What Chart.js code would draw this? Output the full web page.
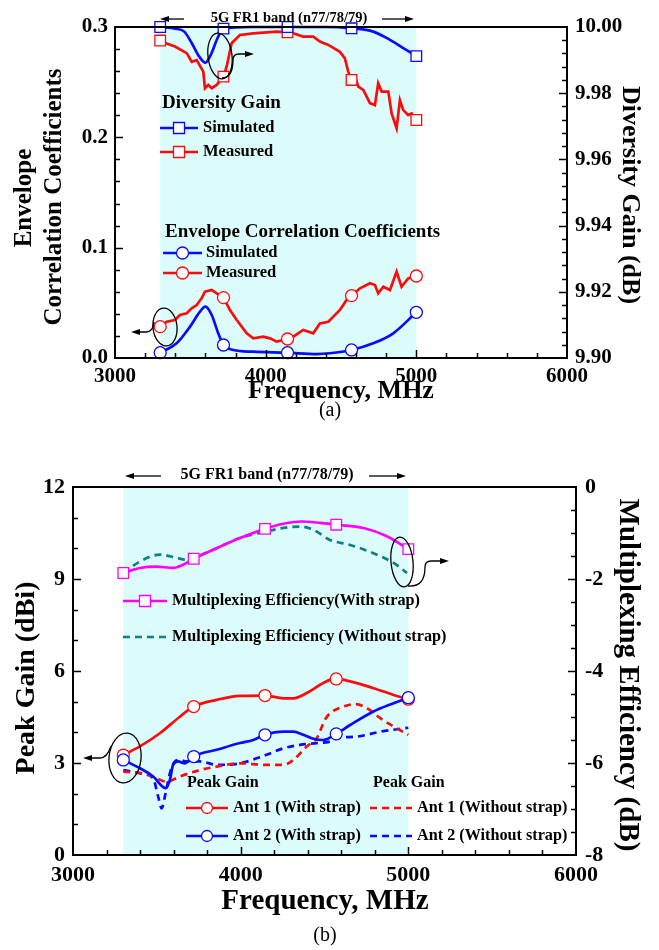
<!DOCTYPE html>
<html>
<head>
<meta charset="utf-8">
<script src="https://cdn.jsdelivr.net/npm/chart.js@4.4.0/dist/chart.umd.min.js"></script>
<style>
  body { margin: 0; background: #fff; width: 659px; height: 950px; position: relative; overflow: hidden; }
  canvas { position: absolute; left: 0; }
  #chartA { top: 0; }
  #chartB { top: 440px; }
</style>
</head>
<body>
<canvas id="chartA" width="659" height="440"></canvas>
<canvas id="chartB" width="659" height="510"></canvas>
<script>
// ---------- shared ----------
const FONT = "'Liberation Serif', 'Times New Roman', serif";
const freqTicks = [3000, 4000, 5000, 6000];
const bandStart = 3300;
const bandEnd = 5000;
const markerFreqs = [3300, 3720, 4145, 4570, 5000];

// ---------- (a) ECC / diversity gain ----------
const eccTicks = [0.0, 0.1, 0.2, 0.3];
const dgTicks = [9.90, 9.92, 9.94, 9.96, 9.98, 10.00];

const dgSimFreq = [3300, 3400, 3460, 3510, 3560, 3600, 3640, 3680, 3720, 3900, 4145, 4400, 4570, 4714, 4825, 4936, 5000];
const dgSim = [10.000, 9.9995, 9.9986, 9.9951, 9.9910, 9.9892, 9.9920, 9.9966, 9.9995, 10.000, 10.000, 10.000, 9.9996, 9.9986, 9.9961, 9.9930, 9.9912];

const dgMeasFreq = [3300, 3343, 3398, 3476, 3509, 3542, 3586, 3597, 3619, 3642, 3675, 3720, 3741, 3774, 3829, 3918, 4006, 4073, 4145, 4183, 4249, 4316, 4360, 4416, 4493, 4526, 4548, 4570, 4593, 4615, 4648, 4692, 4725, 4747, 4770, 4814, 4836, 4869, 4891, 4913, 4946, 4969, 5000];
const dgMeas = [9.9959, 9.9950, 9.9941, 9.9921, 9.9895, 9.9900, 9.9865, 9.9815, 9.9825, 9.9815, 9.9825, 9.9850, 9.9880, 9.9951, 9.9976, 9.9981, 9.9984, 9.9986, 9.9984, 9.9981, 9.9971, 9.9971, 9.9956, 9.9946, 9.9925, 9.9905, 9.9865, 9.9840, 9.9850, 9.9820, 9.9810, 9.9770, 9.9764, 9.9830, 9.9805, 9.9805, 9.9739, 9.9694, 9.9779, 9.9749, 9.9734, 9.9739, 9.9719];

const eccSimFreq = [3300, 3409, 3498, 3564, 3600, 3642, 3685, 3720, 3785, 3918, 4145, 4338, 4426, 4570, 4714, 4847, 5000];
const eccSim = [0.0048, 0.0133, 0.0284, 0.0420, 0.0465, 0.0390, 0.0224, 0.0118, 0.0073, 0.0057, 0.0048, 0.0036, 0.0043, 0.0073, 0.0133, 0.0224, 0.0414];

const eccMeasFreq = [3300, 3343, 3398, 3431, 3476, 3509, 3542, 3575, 3597, 3642, 3675, 3720, 3763, 3808, 3874, 3918, 3984, 4029, 4073, 4145, 4183, 4249, 4316, 4360, 4416, 4493, 4537, 4570, 4626, 4692, 4725, 4747, 4781, 4825, 4869, 4902, 4946, 5000];
const eccMeas = [0.0284, 0.0329, 0.0344, 0.0390, 0.0405, 0.0450, 0.0480, 0.0541, 0.0601, 0.0616, 0.0586, 0.0547, 0.0435, 0.0344, 0.0224, 0.0178, 0.0193, 0.0178, 0.0148, 0.0172, 0.0193, 0.0254, 0.0224, 0.0314, 0.0329, 0.0435, 0.0526, 0.0565, 0.0632, 0.0677, 0.0662, 0.0586, 0.0646, 0.0616, 0.0782, 0.0646, 0.0722, 0.0743];

// ---------- (b) peak gain / multiplexing efficiency ----------
const gainTicks = [0, 3, 6, 9, 12];
const meTicks = [-8, -6, -4, -2, 0];

const meWithFreq = [3300, 3399, 3498, 3597, 3657, 3720, 3857, 3996, 4145, 4255, 4364, 4474, 4570, 4733, 4872, 5000];
const meWith = [-1.87, -1.76, -1.73, -1.76, -1.69, -1.56, -1.33, -1.11, -0.91, -0.80, -0.75, -0.78, -0.82, -0.89, -1.07, -1.35];

const meWithoutFreq = [3300, 3399, 3518, 3617, 3677, 3737, 3857, 3996, 4149, 4255, 4354, 4434, 4533, 4653, 4792, 4912, 4992];
const meWithout = [-1.87, -1.62, -1.47, -1.54, -1.58, -1.51, -1.33, -1.11, -0.97, -0.89, -0.86, -0.93, -1.15, -1.26, -1.44, -1.65, -1.87];

const ant1WithFreq = [3300, 3399, 3518, 3637, 3720, 3857, 3996, 4145, 4255, 4314, 4394, 4474, 4533, 4570, 4653, 4792, 4912, 5000];
const ant1With = [3.26, 3.54, 3.97, 4.51, 4.84, 5.06, 5.19, 5.20, 5.11, 5.11, 5.28, 5.55, 5.71, 5.74, 5.66, 5.44, 5.22, 5.08];

const ant2WithFreq = [3300, 3399, 3478, 3552, 3578, 3597, 3627, 3667, 3697, 3720, 3857, 3996, 4075, 4145, 4255, 4314, 4374, 4434, 4493, 4570, 4653, 4792, 4912, 5000];
const ant2With = [3.10, 2.83, 2.56, 2.18, 2.45, 2.94, 3.05, 2.99, 3.10, 3.21, 3.43, 3.65, 3.75, 3.92, 4.02, 4.02, 3.92, 3.79, 3.75, 3.95, 4.24, 4.68, 4.95, 5.13];

const ant1WithoutFreq = [3300, 3399, 3478, 3558, 3637, 3757, 3857, 3996, 4149, 4255, 4314, 4394, 4454, 4503, 4533, 4613, 4683, 4753, 4833, 4912, 5000];
const ant1Without = [2.72, 2.67, 2.56, 2.39, 2.56, 2.77, 2.88, 2.99, 2.94, 2.94, 3.10, 3.54, 3.81, 4.41, 4.62, 4.84, 4.92, 4.79, 4.46, 4.19, 3.92];

const ant2WithoutFreq = [3300, 3399, 3478, 3508, 3528, 3552, 3578, 3608, 3637, 3677, 3757, 3857, 3996, 4149, 4255, 4354, 4454, 4533, 4577, 4693, 4833, 5000];
const ant2Without = [2.77, 2.67, 2.50, 1.90, 1.52, 2.01, 2.67, 3.05, 3.10, 3.05, 3.05, 2.94, 2.99, 3.26, 3.48, 3.59, 3.65, 3.70, 3.81, 3.86, 4.02, 4.15];

// colours
const BLUE = '#0a0aff';
const RED = '#ff0a0a';
const MAGENTA = '#ff00ff';
const TEAL = '#0d8080';
const SHADE = '#dcfcfc';

Chart.defaults.font.family = FONT;
Chart.defaults.color = '#000';

// ---------- helpers ----------
function series(freq, vals, color, yAxisID, marker, extra) {
  return Object.assign({
    type: 'line',
    data: freq.map((f, i) => ({ x: f, y: vals[i] })),
    yAxisID: yAxisID,
    borderColor: color,
    borderWidth: 2.7,
    pointStyle: marker ? marker.style : 'circle',
    pointRadius: ctx => (marker && ctx.raw && markerFreqs.includes(ctx.raw.x)) ? marker.r : 0,
    pointBackgroundColor: '#fff',
    pointBorderColor: color,
    pointBorderWidth: 1.3,
    pointHoverRadius: 0,
    clip: false,
    fill: false
  }, extra || {});
}

function txt(ctx, s, x, y, size, o) {
  o = o || {};
  ctx.save();
  ctx.font = (o.normal ? '' : 'bold ') + size + 'px ' + FONT;
  ctx.fillStyle = '#000';
  ctx.textAlign = o.align || 'left';
  ctx.textBaseline = 'middle';
  ctx.translate(x, y);
  if (o.rot) ctx.rotate(o.rot);
  ctx.fillText(s, 0, 0);
  ctx.restore();
}

function arrowHead(ctx, x, y, dir) {
  ctx.beginPath();
  ctx.moveTo(x, y);
  ctx.lineTo(x - dir * 9, y - 3);
  ctx.lineTo(x - dir * 9, y + 3);
  ctx.closePath();
  ctx.fill();
}

function hArrow(ctx, from, to, y) {
  ctx.save();
  ctx.strokeStyle = '#000';
  ctx.fillStyle = '#000';
  ctx.lineWidth = 1.3;
  const dir = to > from ? 1 : -1;
  ctx.beginPath();
  ctx.moveTo(from, y);
  ctx.lineTo(to - dir * 6, y);
  ctx.stroke();
  arrowHead(ctx, to, y, dir);
  ctx.restore();
}

function shadeBand(chart) {
  const { ctx, chartArea, scales } = chart;
  const x1 = scales.x.getPixelForValue(bandStart);
  const x2 = scales.x.getPixelForValue(bandEnd);
  ctx.save();
  ctx.fillStyle = SHADE;
  ctx.fillRect(x1, chartArea.top, x2 - x1, chartArea.bottom - chartArea.top);
  ctx.restore();
}

// inward tick marks on one axis, longer at the labelled values
function inTicks(chart, id, step, majors) {
  const { ctx, chartArea } = chart;
  const s = chart.scales[id];
  const n = Math.round((s.max - s.min) / step);
  ctx.save();
  ctx.strokeStyle = '#000';
  ctx.lineWidth = 1.5;
  for (let i = 1; i < n; i++) {
    const v = s.min + i * step;
    const isMajor = majors.some(m => Math.abs(m - v) < step / 10);
    const len = isMajor ? 8 : 5;
    const p = Math.round(s.getPixelForValue(v)) + 0.5;
    ctx.beginPath();
    if (id === 'x') {
      ctx.moveTo(p, chartArea.bottom);
      ctx.lineTo(p, chartArea.bottom - len);
    } else if (s.position === 'left') {
      ctx.moveTo(chartArea.left, p);
      ctx.lineTo(chartArea.left + len, p);
    } else {
      ctx.moveTo(chartArea.right, p);
      ctx.lineTo(chartArea.right - len, p);
    }
    ctx.stroke();
  }
  ctx.restore();
}

function frame(chart) {
  const { ctx, chartArea: a } = chart;
  ctx.save();
  ctx.strokeStyle = '#000';
  ctx.lineWidth = 2;
  ctx.strokeRect(a.left, a.top, a.right - a.left, a.bottom - a.top);
  ctx.restore();
}

// legend swatch: line (optionally dashed) with an open marker in the middle
function key(ctx, x1, x2, y, color, dash, marker, r) {
  ctx.save();
  ctx.strokeStyle = color;
  ctx.lineWidth = 2.7;
  if (dash) ctx.setLineDash(dash);
  ctx.beginPath();
  ctx.moveTo(x1, y);
  ctx.lineTo(x2, y);
  ctx.stroke();
  ctx.setLineDash([]);
  if (marker) {
    const cx = (x1 + x2) / 2;
    ctx.fillStyle = '#fff';
    ctx.lineWidth = 1.3;
    ctx.beginPath();
    if (marker === 'rect') ctx.rect(cx - r, y - r, 2 * r, 2 * r);
    else ctx.arc(cx, y, r, 0, Math.PI * 2);
    ctx.fill();
    ctx.stroke();
  }
  ctx.restore();
}

function ellipse(ctx, x, y, rx, ry, rot) {
  ctx.save();
  ctx.strokeStyle = '#000';
  ctx.lineWidth = 1.3;
  ctx.beginPath();
  ctx.ellipse(x, y, rx, ry, rot || 0, 0, Math.PI * 2);
  ctx.stroke();
  ctx.restore();
}

function pathArrow(ctx, build, hx, hy, dir) {
  ctx.save();
  ctx.strokeStyle = '#000';
  ctx.fillStyle = '#000';
  ctx.lineWidth = 1.3;
  ctx.beginPath();
  build(ctx);
  ctx.stroke();
  arrowHead(ctx, hx, hy, dir);
  ctx.restore();
}

// scale options: fixed tick values, bold labels, no grid, box size pinned
function axis(values, fmt, size, pad, fit, extra) {
  return Object.assign({
    afterBuildTicks: s => { s.ticks = values.map(v => ({ value: v })); },
    afterFit: s => { Object.assign(s, fit); },
    ticks: {
      font: { family: FONT, size: size, weight: 'bold' },
      color: '#000',
      padding: pad,
      autoSkip: false,
      maxRotation: 0,
      callback: fmt
    },
    grid: { display: false, drawTicks: false },
    border: { display: false }
  }, extra);
}

// ---------- chart (a) ----------
const decorA = {
  id: 'decorA',
  beforeDatasetsDraw(chart) { shadeBand(chart); },
  afterDraw(chart) {
    const ctx = chart.ctx;
    frame(chart);
    inTicks(chart, 'x', 200, freqTicks);
    inTicks(chart, 'y', 0.02, eccTicks);
    inTicks(chart, 'y1', 0.004, dgTicks);

    // band label
    txt(ctx, '5G FR1 band (n77/78/79)', 289, 18, 14.5, { align: 'center' });
    hArrow(ctx, 184, 160, 19);
    hArrow(ctx, 382, 414, 19);

    // legends
    txt(ctx, 'Diversity Gain', 162, 103, 19);
    key(ctx, 160, 198, 128, BLUE, null, 'rect', 5.5);
    txt(ctx, 'Simulated', 203, 128, 16.5);
    key(ctx, 160, 198, 152, RED, null, 'rect', 5.5);
    txt(ctx, 'Measured', 203, 152, 16.5);

    txt(ctx, 'Envelope Correlation Coefficients', 165, 232, 19);
    key(ctx, 163, 202, 253, BLUE, null, 'circle', 6);
    txt(ctx, 'Simulated', 206, 253, 16.5);
    key(ctx, 163, 202, 273, RED, null, 'circle', 6);
    txt(ctx, 'Measured', 206, 273, 16.5);

    // curve-to-axis pointers
    ellipse(ctx, 220, 56, 12, 23, -0.12);
    pathArrow(ctx, c => {
      c.moveTo(222, 78);
      c.bezierCurveTo(230, 78, 233, 70, 233, 60);
      c.quadraticCurveTo(233, 54, 239, 54);
      c.lineTo(248, 54);
    }, 254, 54, 1);
    ellipse(ctx, 165, 327, 12, 19, -0.1);
    pathArrow(ctx, c => {
      c.moveTo(154, 322);
      c.quadraticCurveTo(153, 332, 146, 332);
      c.lineTo(137, 332);
    }, 131, 332, -1);

    // axis titles
    txt(ctx, 'Envelope', 25, 198, 25, { align: 'center', rot: -Math.PI / 2 });
    txt(ctx, 'Correlation Coefficients', 55, 197, 25, { align: 'center', rot: -Math.PI / 2 });
    txt(ctx, 'Diversity Gain (dB)', 630, 195, 26, { align: 'center', rot: Math.PI / 2 });
    txt(ctx, 'Frequency, MHz', 341, 391, 26, { align: 'center' });
    txt(ctx, '(a)', 330, 411, 20, { align: 'center', normal: true });
  }
};

new Chart(document.getElementById('chartA'), {
  type: 'line',
  data: {
    datasets: [
      series(dgSimFreq, dgSim, BLUE, 'y1', { style: 'rect', r: 7.5 }, { cubicInterpolationMode: 'monotone' }),
      series(dgMeasFreq, dgMeas, RED, 'y1', { style: 'rect', r: 7.5 }, { tension: 0 }),
      series(eccSimFreq, eccSim, BLUE, 'y', { style: 'circle', r: 6 }, { cubicInterpolationMode: 'monotone' }),
      series(eccMeasFreq, eccMeas, RED, 'y', { style: 'circle', r: 6 }, { tension: 0 })
    ]
  },
  options: {
    responsive: false,
    animation: false,
    events: [],
    layout: { padding: { top: 27, left: 0, right: 0, bottom: 0 } },
    plugins: { legend: { display: false }, tooltip: { enabled: false } },
    scales: {
      x: axis(freqTicks, v => String(v), 21, 6, { height: 82 }, { type: 'linear', min: 3000, max: 6000 }),
      y: axis(eccTicks, v => v.toFixed(1), 21, 7, { width: 115 }, { position: 'left', min: 0, max: 0.3 }),
      y1: axis(dgTicks, v => v.toFixed(2), 21, 8, { width: 92 }, { position: 'right', min: 9.9, max: 10.0 })
    }
  },
  plugins: [decorA]
});

// ---------- chart (b) ----------
const decorB = {
  id: 'decorB',
  beforeDatasetsDraw(chart) { shadeBand(chart); },
  afterDraw(chart) {
    const ctx = chart.ctx;
    frame(chart);
    inTicks(chart, 'x', 200, freqTicks);
    inTicks(chart, 'y', 1, gainTicks);
    inTicks(chart, 'y1', 0.5, meTicks);

    txt(ctx, '5G FR1 band (n77/78/79)', 267, 35, 16, { align: 'center' });
    hArrow(ctx, 161, 125, 36);
    hArrow(ctx, 369, 406, 36);

    key(ctx, 123, 167, 161, MAGENTA, null, 'rect', 5.5);
    txt(ctx, 'Multiplexing Efficiency(With strap)', 172, 161, 16.2);
    key(ctx, 123, 167, 197, TEAL, [7, 5], null, 0);
    txt(ctx, 'Multiplexing Efficiency (Without strap)', 172, 197, 16.2);

    txt(ctx, 'Peak Gain', 187, 343, 16);
    key(ctx, 186, 228, 368, RED, null, 'circle', 5.5);
    txt(ctx, 'Ant 1 (With strap)', 233, 368, 16.2);
    key(ctx, 186, 228, 396, BLUE, null, 'circle', 5.5);
    txt(ctx, 'Ant 2 (With strap)', 233, 396, 16.2);

    txt(ctx, 'Peak Gain', 373, 343, 16);
    key(ctx, 370, 412, 368, RED, [7, 5], null, 0);
    txt(ctx, 'Ant 1 (Without strap)', 417, 368, 16.2);
    key(ctx, 370, 412, 396, BLUE, [7, 5], null, 0);
    txt(ctx, 'Ant 2 (Without strap)', 417, 396, 16.2);

    ellipse(ctx, 125, 318, 16, 25, 0.1);
    pathArrow(ctx, c => {
      c.moveTo(111, 306);
      c.quadraticCurveTo(107, 318, 100, 318);
      c.lineTo(90, 318);
    }, 83, 318, -1);
    ellipse(ctx, 402, 122, 11, 25, -0.1);
    pathArrow(ctx, c => {
      c.moveTo(408, 146);
      c.bezierCurveTo(420, 147, 425, 140, 425, 127);
      c.quadraticCurveTo(425, 121, 431, 121);
      c.lineTo(442, 121);
    }, 449, 121, 1);

    txt(ctx, 'Peak Gain (dBi)', 27, 238, 28, { align: 'center', rot: -Math.PI / 2 });
    txt(ctx, 'Multiplexing Efficiency (dB)', 627, 235, 29, { align: 'center', rot: Math.PI / 2 });
    txt(ctx, 'Frequency, MHz', 325, 462, 29, { align: 'center' });
    txt(ctx, '(b)', 325, 496, 20, { align: 'center', normal: true });
  }
};

new Chart(document.getElementById('chartB'), {
  type: 'line',
  data: {
    datasets: [
      series(meWithFreq, meWith, MAGENTA, 'y1', { style: 'rect', r: 7.5 }, { cubicInterpolationMode: 'monotone' }),
      series(meWithoutFreq, meWithout, TEAL, 'y1', null, { cubicInterpolationMode: 'monotone', borderDash: [7, 5] }),
      series(ant2WithFreq, ant2With, BLUE, 'y', { style: 'circle', r: 6 }, { cubicInterpolationMode: 'monotone' }),
      series(ant1WithFreq, ant1With, RED, 'y', { style: 'circle', r: 6 }, { cubicInterpolationMode: 'monotone' }),
      series(ant1WithoutFreq, ant1Without, RED, 'y', null, { cubicInterpolationMode: 'monotone', borderDash: [7, 5] }),
      series(ant2WithoutFreq, ant2Without, BLUE, 'y', null, { cubicInterpolationMode: 'monotone', borderDash: [7, 5] })
    ]
  },
  options: {
    responsive: false,
    animation: false,
    events: [],
    layout: { padding: { top: 47, left: 0, right: 0, bottom: 0 } },
    plugins: { legend: { display: false }, tooltip: { enabled: false } },
    scales: {
      x: axis(freqTicks, v => String(v), 22, 7, { height: 95 }, { type: 'linear', min: 3000, max: 6000 }),
      y: axis(gainTicks, v => String(v), 22, 8, { width: 73 }, { position: 'left', min: 0, max: 12 }),
      y1: axis(meTicks, v => String(v), 22, 9, { width: 83 }, { position: 'right', min: -8, max: 0 })
    }
  },
  plugins: [decorB]
});
</script>
</body>
</html>
